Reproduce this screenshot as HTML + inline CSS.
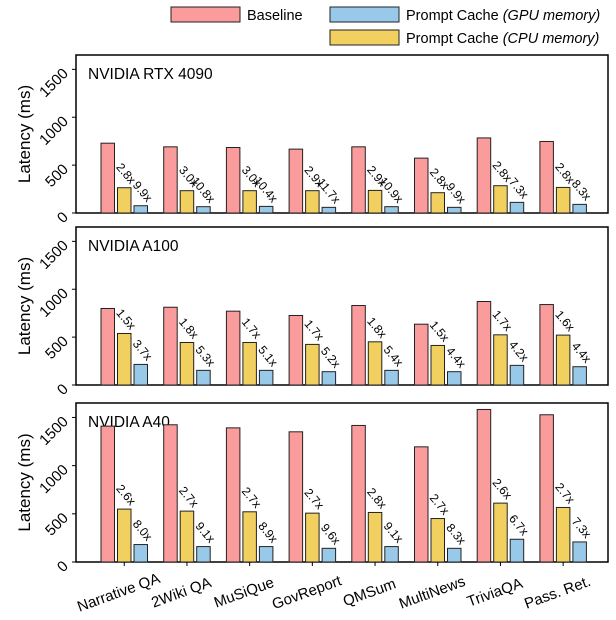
<!DOCTYPE html>
<html><head><meta charset="utf-8"><style>
body{margin:0;background:#fff}
svg{display:block;font-family:"Liberation Sans",sans-serif}
</style></head><body>
<svg id="c" width="616" height="620"></svg>
<script>
const categories=["Narrative QA","2Wiki QA","MuSiQue","GovReport","QMSum","MultiNews","TriviaQA","Pass. Ret."];
const panelTitles=["NVIDIA RTX 4090","NVIDIA A100","NVIDIA A40"];
const baseline4090=[729,691,684,667,691,573,784,747];
const cpu4090=[264,233,233,233,236,212,285,267];
const gpu4090=[76,66,69,59,66,59,111,90];
const cpuLbl4090=["2.8x","3.0x","3.0x","2.9x","2.9x","2.8x","2.8x","2.8x"];
const gpuLbl4090=["9.9x","10.8x","10.4x","11.7x","10.9x","9.9x","7.3x","8.3x"];
const baselineA100=[799,812,771,726,830,635,872,840];
const cpuA100=[538,444,444,424,451,413,524,521];
const gpuA100=[215,153,153,139,153,139,205,191];
const cpuLblA100=["1.5x","1.8x","1.7x","1.7x","1.8x","1.5x","1.7x","1.6x"];
const gpuLblA100=["3.7x","5.3x","5.1x","5.2x","5.4x","4.4x","4.2x","4.4x"];
const baselineA40=[1410,1424,1392,1351,1417,1195,1583,1528];
const cpuA40=[549,528,521,507,514,451,611,566];
const gpuA40=[181,160,160,142,160,142,236,208];
const cpuLblA40=["2.6x","2.7x","2.7x","2.7x","2.8x","2.7x","2.6x","2.7x"];
const gpuLblA40=["8.0x","9.1x","8.9x","9.6x","9.1x","8.3x","6.7x","7.3x"];
const yTicks=[0,500,1000,1500];

const NS="http://www.w3.org/2000/svg";
const svg=document.getElementById('c');
function mk(t,a,p){const e=document.createElementNS(NS,t);for(const k in a)e.setAttribute(k,a[k]);(p||svg).appendChild(e);return e;}
const COL={b:"#fa9b9c",c:"#f2d060",g:"#99c9e8"};
const panels=[
 {top:55,bot:213,b:baseline4090,c:cpu4090,g:gpu4090,cl:cpuLbl4090,gl:gpuLbl4090},
 {top:227,bot:385,b:baselineA100,c:cpuA100,g:gpuA100,cl:cpuLblA100,gl:gpuLblA100},
 {top:403,bot:562,b:baselineA40,c:cpuA40,g:gpuA40,cl:cpuLblA40,gl:gpuLblA40}];
const L=76,R=608,x0=101,step=62.7,bw=13.5,bs=16.5;
function xg(i){return x0+i*step;}
panels.forEach((p,pi)=>{
 const sc=(p.bot-p.top)/1650;
 const y=v=>p.bot-v*sc;
 const g=mk('g',{});
 
 
 const fr=mk('rect',{x:L,y:p.top,width:R-L,height:p.bot-p.top,fill:'none',stroke:'#000','stroke-width':1.5},g);
 
 
 const tt=mk('text',{x:88,y:p.top+24,'font-size':15.5},g);tt.textContent=panelTitles[pi];
 
 
 const yl=mk('text',{transform:`translate(30,${(p.top+p.bot)/2}) rotate(-90)`,'text-anchor':'middle','font-size':17},g);yl.textContent='Latency (ms)';
 
 
 yTicks.forEach(t=>{
  const ty=y(t);
  mk('line',{x1:L-4,x2:L,y1:ty,y2:ty,stroke:'#000'},g);
  const tl=mk('text',{transform:`translate(${L-7},${ty+5}) rotate(-45)`,'text-anchor':'end','font-size':15},g);tl.textContent=t;
  
  
 });
 categories.forEach((cat,i)=>{
  const xs=xg(i);
  [[p.b[i],COL.b,'baseline'],[p.c[i],COL.c,'cpu'],[p.g[i],COL.g,'gpu']].forEach((d,k)=>{
   const r=mk('rect',{x:xs+k*bs,y:y(d[0]),width:bw,height:d[0]*sc,fill:d[1],stroke:'#222','stroke-width':1},g);
   
   
  });
  [[p.c[i],p.cl[i],1],[p.g[i],p.gl[i],2]].forEach(d=>{
   const cx=xs+d[2]*bs+bw/2+6, cy=y(d[0])-3;
   const t=mk('text',{transform:`translate(${cx},${cy}) rotate(50)`,'text-anchor':'end','font-size':12},g);t.textContent=d[1];
   
   
  });
  if(pi===2){
   mk('line',{x1:xs+bs+bw/2,x2:xs+bs+bw/2,y1:p.bot,y2:p.bot+4,stroke:'#000'},g);
   const xl=mk('text',{transform:`translate(${xs+bs+bw/2-4},${p.bot+35}) rotate(-20)`,'text-anchor':'middle','font-size':15},g);xl.textContent=cat;
   
   
  }
 });
});
// legend
const lg=mk('g',{});


[[171,7,COL.b,'Baseline',''],[330,7,COL.g,'Prompt Cache ','(GPU memory)'],[330,30,COL.c,'Prompt Cache ','(CPU memory)']].forEach(d=>{
 const e=mk('g',{},lg);
 
 
 mk('rect',{x:d[0],y:d[1],width:69,height:15,fill:d[2],stroke:'#222'},e);
 const t=mk('text',{x:d[0]+76,y:d[1]+13,'font-size':14.5},e);
 t.textContent=d[3];
 if(d[4]){const s=mk('tspan',{'font-style':'italic'},t);s.textContent=d[4];}
});
</script>
</body></html>
